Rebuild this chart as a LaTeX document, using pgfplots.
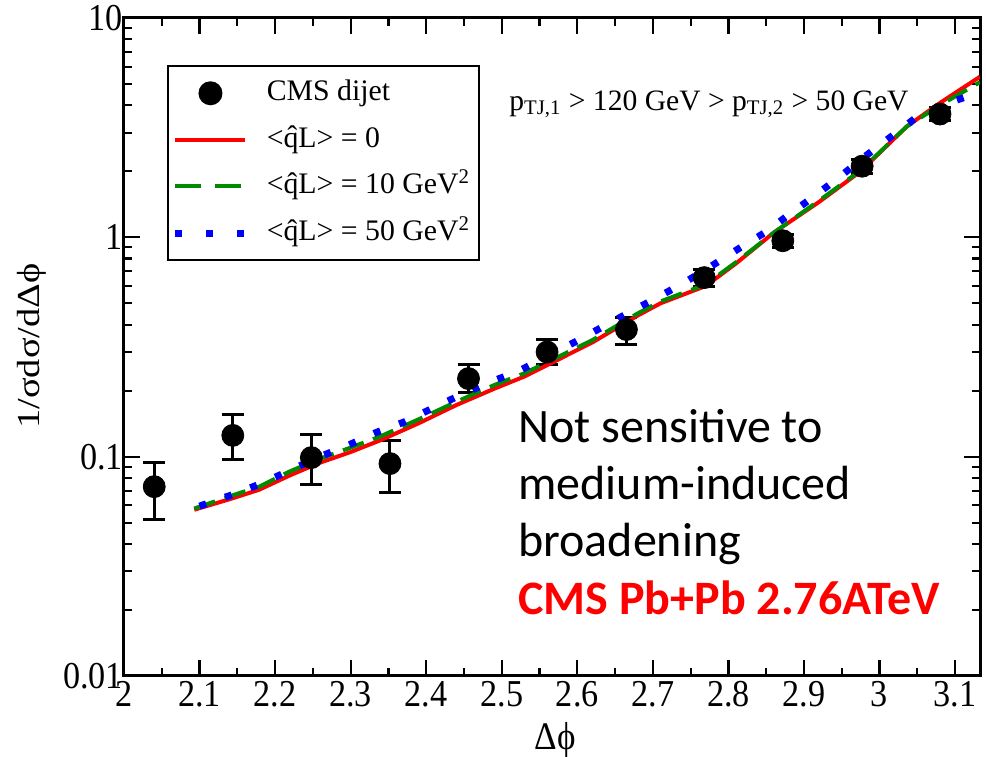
\documentclass[border=0pt]{standalone}
\usepackage{fontspec}
\setmainfont{Liberation Serif}
\newfontfamily\calib{Carlito}
\newfontfamily\tickf[FakeStretch=0.9]{Liberation Serif}
\newfontfamily\ylabf[FakeStretch=1.2]{Liberation Serif}
\usepackage{pgfplots}
\pgfplotsset{compat=1.18}
\definecolor{xgreen}{RGB}{0,139,0}

\pgfplotsset{
  redleg/.style={legend image code/.code={\draw[##1] (0pt,0pt) -- (35pt,0pt);}},
  greenleg/.style={legend image code/.code={\draw[##1, dash pattern=on 13pt off 7pt] (0pt,0pt) -- (35pt,0pt);}},
  blueleg/.style={legend image code/.code={\draw[##1, dash pattern=on 3.5pt off 12pt] (0pt,0pt) -- (35pt,0pt);}},
  dotleg/.style={legend image code/.code={\draw[black, fill=black] (0pt,0pt) (35pt,0pt) (17.5pt,0pt) circle[radius=5.5pt];}},
}

\pgfplotstableread{
x y ep em
2.040 0.073 0.021 0.0215
2.144 0.125 0.031 0.028
2.248 0.099 0.027 0.0245
2.352 0.093 0.025 0.024
2.456 0.227 0.036 0.031
2.560 0.300 0.042 0.037
2.665 0.380 0.050 0.055
2.768 0.655 0.06 0.06
2.872 0.965 0.07 0.07
2.977 2.11 0.15 0.15
3.080 3.65 0.25 0.25
}\cmsdata

\pgfplotstableread{
x y
2.093 0.0573
2.14 0.0640
2.179 0.0707
2.219 0.0820
2.258 0.0935
2.30 0.1050
2.34 0.1190
2.39 0.1420
2.44 0.1720
2.49 0.2040
2.53 0.2320
2.57 0.2720
2.62 0.3320
2.68 0.4400
2.71 0.5000
2.77 0.6000
2.81 0.7600
2.86 1.0500
2.92 1.4500
2.975 2.000
3.036 3.200
3.08 4.100
3.133 5.400
}\redq

\pgfplotstableread{
x y
2.093 0.0580
2.14 0.0660
2.179 0.0730
2.219 0.0855
2.258 0.0975
2.30 0.1100
2.34 0.1240
2.39 0.1480
2.44 0.1780
2.49 0.2120
2.53 0.2400
2.57 0.2800
2.62 0.3400
2.68 0.4500
2.71 0.5100
2.77 0.6100
2.81 0.7700
2.86 1.0500
2.92 1.4700
2.975 2.020
3.036 3.200
3.08 4.000
3.133 5.100
}\greenq

\pgfplotstableread{
x y
2.100 0.0595
2.143 0.0670
2.181 0.0753
2.219 0.0863
2.256 0.0990
2.295 0.1120
2.334 0.1290
2.371 0.1440
2.408 0.1660
2.444 0.1900
2.483 0.2180
2.521 0.2440
2.559 0.2860
2.596 0.3320
2.632 0.3880
2.669 0.4550
2.706 0.5320
2.742 0.6230
2.777 0.7380
2.812 0.8810
2.848 1.0500
2.883 1.2900
2.917 1.5700
2.950 1.9200
2.983 2.3700
3.016 2.8900
3.049 3.5300
3.086 4.0500
3.126 4.5000
3.133 4.5600
}\blueq

\begin{document}
\begin{tikzpicture}
\begin{axis}[
  scale only axis, width=428pt, height=329pt,
  xmin=2, xmax=3.133, ymode=log, ymin=0.01, ymax=10,
  xtick={2,2.1,2.2,2.3,2.4,2.5,2.6,2.7,2.8,2.9,3,3.1},
  xticklabels={2,2.1,2.2,2.3,2.4,2.5,2.6,2.7,2.8,2.9,3,3.1},
  minor x tick num=1,
  ytick={0.01,0.1,1,10},
  yticklabels={0.01,0.1,1,10},
  minor ytick={0.02,0.03,0.04,0.05,0.06,0.07,0.08,0.09,0.2,0.3,0.4,0.5,0.6,0.7,0.8,0.9,2,3,4,5,6,7,8,9},
  xtick pos=both, ytick pos=both,
  xticklabel pos=lower, yticklabel pos=left,
  tick align=inside,
  major tick length=8pt, minor tick length=4pt,
  every tick/.style={black, line width=1.1pt},
  axis line style={line width=1.5pt},
  tick label style={font=\tickf\fontsize{19}{21}\selectfont},
  xticklabel style={yshift=1pt},
  yticklabel style={xshift=3pt},
  xlabel={\tickf\fontsize{19.5}{21}\selectfont Δ\char"03D5},
  ylabel={\ylabf\fontsize{16}{18}\selectfont 1/σdσ/dΔ\char"03D5},
  xlabel style={at={(axis description cs:0.5035,-0.0973)}, anchor=center},
  ylabel style={at={(axis description cs:-0.1075,0.5015)}, anchor=center},
  legend cell align=left,
  legend style={at={(0.0502,0.9286)}, anchor=north west, draw=black, line width=1pt,
    font=\fontsize{14.9}{16}\selectfont, inner xsep=2pt, inner ysep=2pt,
    nodes={text height=13pt, text depth=5.5pt, inner sep=2.4pt},
    /tikz/every odd column/.append style={column sep=6.5pt}},
]
\addplot[only marks, mark=*, mark size=5.5pt, black, dotleg,
  error bars/.cd, y dir=both, y explicit,
  error bar style={line width=1.5pt, black},
  error mark options={rotate=90, mark size=5.5pt, line width=1.5pt, black}
] table[x=x, y=y, y error plus=ep, y error minus=em] {\cmsdata};
\addlegendentry{CMS dijet}

\addplot[red, line width=2pt, no marks, redleg] table[x=x,y=y] {\redq};
\addlegendentry{<\^{q}L> = 0}

\addplot[xgreen, line width=2pt, no marks, dash pattern=on 11pt off 5pt, greenleg] table[x=x,y=y] {\greenq};
\addlegendentry{<\^{q}L> = 10 GeV\textsuperscript{2}}

\addplot[blue, line width=3.5pt, no marks, dash pattern=on 3.5pt off 10pt, blueleg] table[x=x,y=y] {\blueq};
\addlegendentry{<\^{q}L> = 50 GeV\textsuperscript{2}}

\node[anchor=base west, inner sep=0pt, font=\fontsize{14.8}{16}\selectfont]
  at (axis description cs:0.4498,0.860)
  {p\textsubscript{TJ,1} > 120 GeV > p\textsubscript{TJ,2} > 50 GeV};

\node[anchor=base west, inner sep=0pt, font=\calib\fontsize{24}{28}\selectfont]
  at (axis description cs:0.4603,0.3541) {Not sensitive to};
\node[anchor=base west, inner sep=0pt, font=\calib\fontsize{24}{28}\selectfont]
  at (axis description cs:0.4603,0.2675) {medium-induced};
\node[anchor=base west, inner sep=0pt, font=\calib\fontsize{24}{28}\selectfont]
  at (axis description cs:0.4603,0.1809) {broadening};
\node[anchor=base west, inner sep=0pt, text=red, font=\calib\bfseries\fontsize{24}{28}\selectfont]
  at (axis description cs:0.4603,0.0942) {CMS Pb+Pb 2.76ATeV};
\end{axis}
\pgfresetboundingbox
\path[use as bounding box] ([xshift=-62pt,yshift=-40.5pt]current axis.south west) rectangle ([xshift=3pt,yshift=9pt]current axis.north east);
\end{tikzpicture}
\end{document}
